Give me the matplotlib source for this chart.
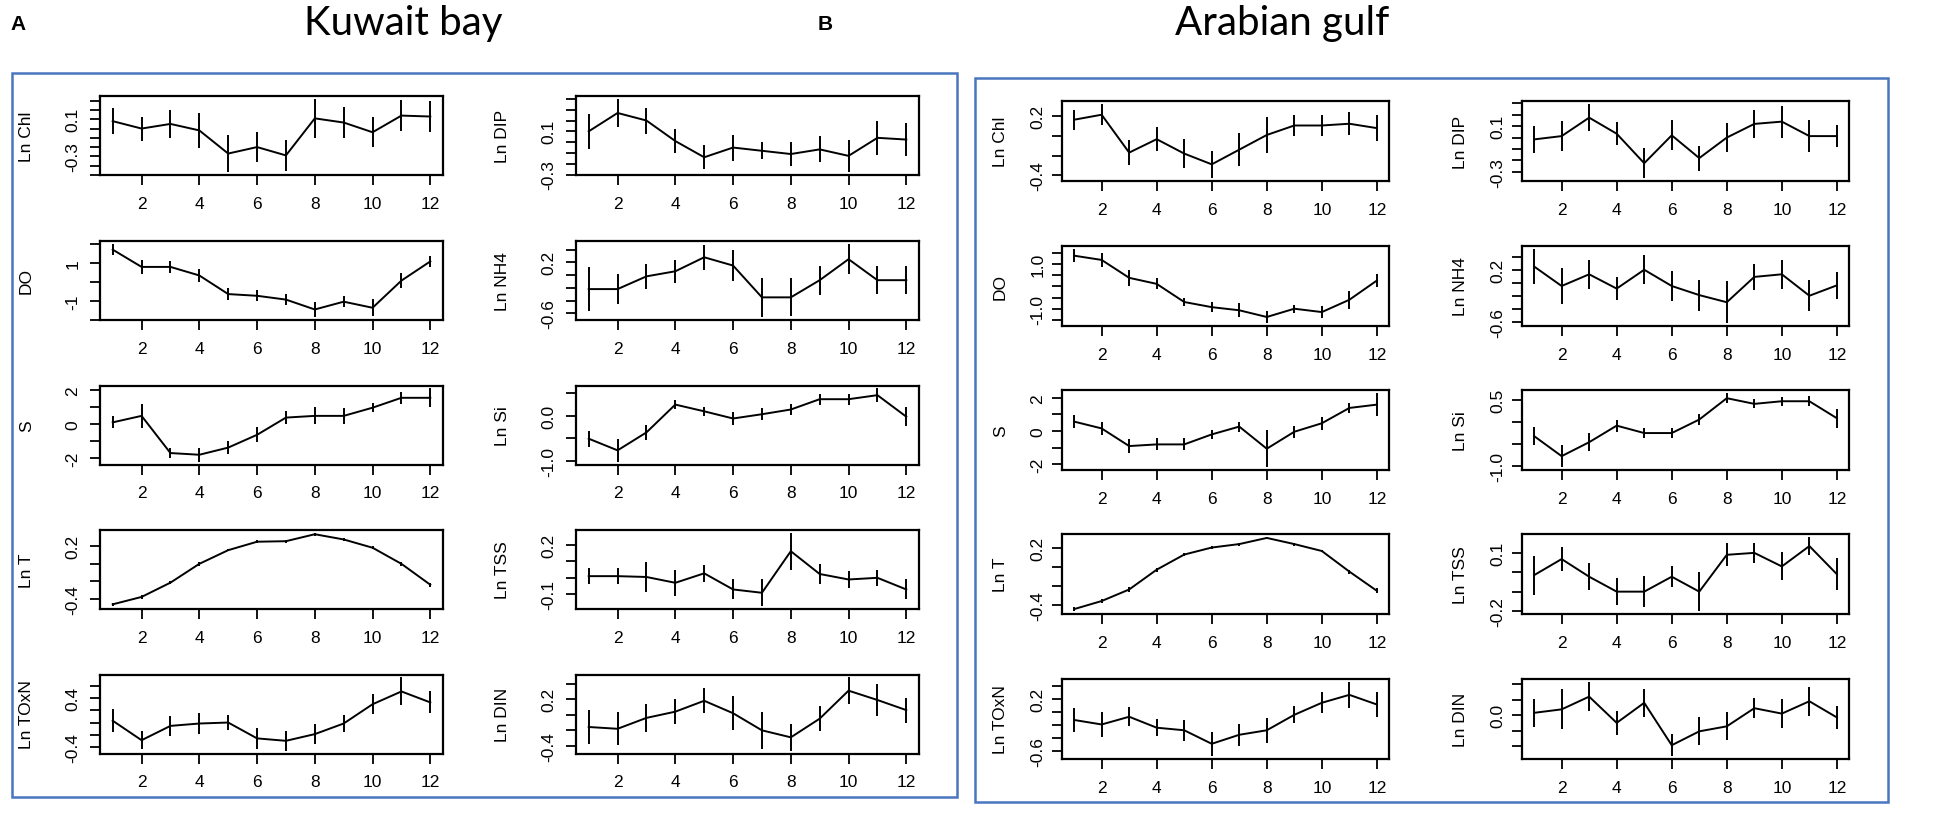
"""
Monthly climatology panels (mean +/- SE) for Kuwait bay and Arabian gulf.

Writes out.png (1953 x 820 px).
"""

import numpy as np
import matplotlib.pyplot as plt
from matplotlib.patches import Rectangle

# ---------------------------------------------------------------------------
# Data
# ---------------------------------------------------------------------------

months = list(range(1, 13))
month_ticks = [2, 4, 6, 8, 10, 12]

left_vars = ["Ln Chl", "DO", "S", "Ln T", "Ln TOxN"]
right_vars = ["Ln DIP", "Ln NH4", "Ln Si", "Ln TSS", "Ln DIN"]

# Kuwait bay
kb_chl_mean = [0.08, 0.00, 0.05, -0.02, -0.27, -0.20, -0.29, 0.11, 0.065, -0.04, 0.14, 0.13]
kb_chl_se = [0.14, 0.13, 0.15, 0.19, 0.20, 0.16, 0.17, 0.21, 0.17, 0.16, 0.17, 0.17]
kb_do_mean = [1.70, 0.79, 0.79, 0.34, -0.64, -0.73, -0.93, -1.45, -1.04, -1.36, 0.07, 1.08]
kb_do_se = [0.30, 0.35, 0.30, 0.33, 0.30, 0.30, 0.30, 0.40, 0.30, 0.45, 0.40, 0.30]
kb_s_mean = [0.10, 0.48, -1.70, -1.80, -1.38, -0.63, 0.38, 0.48, 0.48, 0.96, 1.54, 1.54]
kb_s_se = [0.35, 0.70, 0.30, 0.40, 0.40, 0.45, 0.40, 0.50, 0.45, 0.25, 0.35, 0.55]
kb_t_mean = [-0.465, -0.38, -0.216, 0.0, 0.157, 0.254, 0.26, 0.34, 0.28, 0.185, 0.0, -0.24]
kb_t_se = [0.02, 0.025, 0.02, 0.02, 0.015, 0.015, 0.015, 0.015, 0.015, 0.015, 0.02, 0.025]
kb_toxn_mean = [0.03, -0.29, -0.055, -0.016, 0.0, -0.26, -0.30, -0.19, -0.016, 0.30, 0.51, 0.33]
kb_toxn_se = [0.19, 0.15, 0.16, 0.18, 0.12, 0.17, 0.16, 0.16, 0.14, 0.16, 0.23, 0.18]
kb_dip_mean = [0.10, 0.27, 0.20, 0.01, -0.14, -0.05, -0.08, -0.11, -0.067, -0.127, 0.04, 0.024]
kb_dip_se = [0.16, 0.13, 0.12, 0.11, 0.11, 0.12, 0.08, 0.11, 0.12, 0.15, 0.16, 0.15]
kb_nh4_mean = [-0.22, -0.22, -0.02, 0.06, 0.28, 0.15, -0.35, -0.35, -0.08, 0.25, -0.08, -0.08]
kb_nh4_se = [0.35, 0.23, 0.20, 0.18, 0.20, 0.25, 0.31, 0.30, 0.23, 0.24, 0.22, 0.22]
kb_si_mean = [-0.51, -0.77, -0.37, 0.25, 0.10, -0.06, 0.035, 0.14, 0.37, 0.37, 0.46, -0.02]
kb_si_se = [0.18, 0.25, 0.16, 0.10, 0.10, 0.14, 0.13, 0.13, 0.12, 0.12, 0.15, 0.21]
kb_tss_mean = [0.01, 0.01, 0.005, -0.03, 0.027, -0.07, -0.09, 0.16, 0.023, -0.01, 0.0, -0.07]
kb_tss_se = [0.05, 0.05, 0.09, 0.08, 0.05, 0.06, 0.08, 0.11, 0.06, 0.05, 0.05, 0.06]
kb_din_mean = [-0.157, -0.18, -0.04, 0.04, 0.18, 0.02, -0.20, -0.29, -0.05, 0.31, 0.19, 0.06]
kb_din_se = [0.22, 0.21, 0.18, 0.16, 0.16, 0.22, 0.24, 0.17, 0.16, 0.17, 0.21, 0.16]

# Arabian gulf
ag_chl_mean = [0.166, 0.217, -0.17, -0.033, -0.18, -0.29, -0.14, 0.01, 0.107, 0.107, 0.125, 0.08]
ag_chl_se = [0.10, 0.11, 0.13, 0.12, 0.15, 0.14, 0.17, 0.18, 0.11, 0.11, 0.12, 0.13]
ag_do_mean = [1.37, 1.18, 0.38, 0.11, -0.70, -0.93, -1.07, -1.37, -1.00, -1.15, -0.60, 0.26]
ag_do_se = [0.30, 0.33, 0.36, 0.25, 0.20, 0.22, 0.32, 0.27, 0.17, 0.27, 0.40, 0.30]
ag_s_mean = [0.57, 0.16, -0.90, -0.80, -0.80, -0.20, 0.27, -1.06, -0.04, 0.47, 1.39, 1.59]
ag_s_se = [0.40, 0.40, 0.40, 0.36, 0.36, 0.25, 0.30, 1.10, 0.37, 0.40, 0.30, 0.70]
ag_t_mean = [-0.44, -0.356, -0.236, -0.03, 0.127, 0.20, 0.236, 0.30, 0.236, 0.164, -0.05, -0.25]
ag_t_se = [0.02, 0.02, 0.025, 0.02, 0.015, 0.015, 0.015, 0.01, 0.015, 0.015, 0.02, 0.025]
ag_toxn_mean = [-0.12, -0.19, -0.07, -0.24, -0.28, -0.49, -0.35, -0.28, -0.04, 0.147, 0.27, 0.12]
ag_toxn_se = [0.18, 0.19, 0.15, 0.13, 0.16, 0.19, 0.17, 0.19, 0.13, 0.16, 0.20, 0.19]
ag_dip_mean = [-0.016, 0.013, 0.175, 0.034, -0.225, 0.02, -0.18, 0.0, 0.12, 0.14, 0.013, 0.013]
ag_dip_se = [0.12, 0.13, 0.12, 0.10, 0.13, 0.13, 0.11, 0.13, 0.12, 0.14, 0.14, 0.10]
ag_nh4_mean = [0.25, -0.05, 0.13, -0.09, 0.20, -0.05, -0.19, -0.30, 0.09, 0.13, -0.20, -0.04]
ag_nh4_se = [0.27, 0.27, 0.22, 0.18, 0.22, 0.23, 0.24, 0.32, 0.20, 0.22, 0.24, 0.21]
ag_si_mean = [-0.32, -0.78, -0.46, -0.08, -0.25, -0.25, 0.06, 0.55, 0.42, 0.48, 0.48, 0.09]
ag_si_se = [0.20, 0.25, 0.20, 0.14, 0.12, 0.12, 0.12, 0.12, 0.10, 0.10, 0.12, 0.22]
ag_tss_mean = [-0.015, 0.068, -0.023, -0.10, -0.10, -0.023, -0.10, 0.09, 0.10, 0.03, 0.135, -0.01]
ag_tss_se = [0.10, 0.06, 0.07, 0.07, 0.08, 0.053, 0.10, 0.06, 0.053, 0.072, 0.047, 0.082]
ag_din_mean = [0.03, 0.075, 0.24, -0.10, 0.16, -0.39, -0.21, -0.145, 0.09, 0.02, 0.18, -0.03]
ag_din_se = [0.18, 0.26, 0.19, 0.16, 0.18, 0.14, 0.18, 0.18, 0.13, 0.19, 0.19, 0.15]

# y tick spacing and which ticks carry a label (R drops overlapping labels)
kb_yticks = {
    "Ln Chl": (0.1, {0.1: "0.1", -0.3: "-0.3"}),
    "DO": (1.0, {1.0: "1", -1.0: "-1"}),
    "S": (1.0, {2.0: "2", 0.0: "0", -2.0: "-2"}),
    "Ln T": (0.2, {0.2: "0.2", -0.4: "-0.4"}),
    "Ln TOxN": (0.2, {0.4: "0.4", -0.4: "-0.4"}),
    "Ln DIP": (0.1, {0.1: "0.1", -0.3: "-0.3"}),
    "Ln NH4": (0.2, {0.2: "0.2", -0.6: "-0.6"}),
    "Ln Si": (0.5, {0.0: "0.0", -1.0: "-1.0"}),
    "Ln TSS": (0.1, {0.2: "0.2", -0.1: "-0.1"}),
    "Ln DIN": (0.2, {0.2: "0.2", -0.4: "-0.4"}),
}
ag_yticks = {
    "Ln Chl": (0.2, {0.2: "0.2", -0.4: "-0.4"}),
    "DO": (0.5, {1.0: "1.0", -1.0: "-1.0"}),
    "S": (1.0, {2.0: "2", 0.0: "0", -2.0: "-2"}),
    "Ln T": (0.2, {0.2: "0.2", -0.4: "-0.4"}),
    "Ln TOxN": (0.2, {0.2: "0.2", -0.6: "-0.6"}),
    "Ln DIP": (0.1, {0.1: "0.1", -0.3: "-0.3"}),
    "Ln NH4": (0.2, {0.2: "0.2", -0.6: "-0.6"}),
    "Ln Si": (0.5, {0.5: "0.5", -1.0: "-1.0"}),
    "Ln TSS": (0.1, {0.1: "0.1", -0.2: "-0.2"}),
    "Ln DIN": (0.2, {0.0: "0.0", -0.6: "-0.6"}),
}

kb_series = {
    "Ln Chl": (kb_chl_mean, kb_chl_se), "DO": (kb_do_mean, kb_do_se),
    "S": (kb_s_mean, kb_s_se), "Ln T": (kb_t_mean, kb_t_se),
    "Ln TOxN": (kb_toxn_mean, kb_toxn_se), "Ln DIP": (kb_dip_mean, kb_dip_se),
    "Ln NH4": (kb_nh4_mean, kb_nh4_se), "Ln Si": (kb_si_mean, kb_si_se),
    "Ln TSS": (kb_tss_mean, kb_tss_se), "Ln DIN": (kb_din_mean, kb_din_se),
}
ag_series = {
    "Ln Chl": (ag_chl_mean, ag_chl_se), "DO": (ag_do_mean, ag_do_se),
    "S": (ag_s_mean, ag_s_se), "Ln T": (ag_t_mean, ag_t_se),
    "Ln TOxN": (ag_toxn_mean, ag_toxn_se), "Ln DIP": (ag_dip_mean, ag_dip_se),
    "Ln NH4": (ag_nh4_mean, ag_nh4_se), "Ln Si": (ag_si_mean, ag_si_se),
    "Ln TSS": (ag_tss_mean, ag_tss_se), "Ln DIN": (ag_din_mean, ag_din_se),
}

# ---------------------------------------------------------------------------
# Layout (pixels)
# ---------------------------------------------------------------------------

W, H, DPI = 1953, 820, 100
BOX_BLUE = "#4a76c0"
FONT = ["Liberation Sans", "DejaVu Sans"]
TITLE_FONT = ["Lato", "DejaVu Sans"]
TICK_FS = 12.5

plt.rcParams["font.family"] = FONT


def px_axes(fig, x0, y0, w, h):
    return fig.add_axes([x0 / W, 1 - (y0 + h) / H, w / W, h / H])


def draw_panel(ax, mean, se, step, labels, ypad):
    ax.errorbar(months, mean, yerr=se, color="black", lw=1.4,
                elinewidth=1.4, capsize=0)
    ax.set_xlim(0.56, 12.44)
    ax.margins(y=0.04)
    ax.autoscale_view()
    lo, hi = ax.get_ylim()
    ticks = np.arange(np.ceil(lo / step - 1e-9), np.floor(hi / step + 1e-9) + 1) * step
    ticklabels = []
    for t in ticks:
        txt = ""
        for k, v in labels.items():
            if abs(k - t) < 1e-6:
                txt = v
        ticklabels.append(txt)
    ax.set_yticks(ticks)
    ax.set_yticklabels(ticklabels, rotation=90, va="center", fontsize=TICK_FS)
    ax.set_ylim(lo, hi)
    ax.set_xticks(month_ticks)
    ax.set_xticklabels([str(m) for m in month_ticks], fontsize=TICK_FS)
    ax.tick_params(direction="out", length=7, width=1.3, color="black")
    ax.tick_params(axis="x", pad=8)
    ax.tick_params(axis="y", pad=ypad)
    for sp in ax.spines.values():
        sp.set_linewidth(1.6)


def draw_site(fig, series, yticks, col_left, col_w, row_top, row_h, label_off, ypad):
    for ci, names in enumerate([left_vars, right_vars]):
        for ri, name in enumerate(names):
            ax = px_axes(fig, col_left[ci], row_top[ri], col_w, row_h)
            mean, se = series[name]
            step, labels = yticks[name]
            draw_panel(ax, mean, se, step, labels, ypad)
            ax.set_ylabel(name, fontsize=TICK_FS)
            ax.yaxis.set_label_coords(-label_off / col_w, 0.5)


def main():
    fig = plt.figure(figsize=(W / DPI, H / DPI), dpi=DPI, facecolor="white")

    # outer blue frames
    for x0, y0, x1, y1 in [(12, 74, 957, 798), (975, 79, 1888, 803)]:
        fig.patches.append(Rectangle((x0 / W, 1 - y1 / H), (x1 - x0) / W, (y1 - y0) / H,
                                     transform=fig.transFigure, fill=False,
                                     edgecolor=BOX_BLUE, linewidth=1.8))

    draw_site(fig, kb_series, kb_yticks, [100, 576], 343,
              [97, 242, 386.5, 531, 675.5], 79, 66, 7)
    draw_site(fig, ag_series, ag_yticks, [1062, 1522], 327,
              [102, 247, 391, 535, 680], 80, 54, 5)

    fig.text(10 / W, 1 - 24 / H, "A", fontsize=15, fontweight="bold",
             ha="left", va="center")
    fig.text(403 / W, 1 - 24 / H, "Kuwait bay", fontsize=29, family=TITLE_FONT,
             ha="center", va="center")
    fig.text(818 / W, 1 - 24 / H, "B", fontsize=15, fontweight="bold",
             ha="left", va="center")
    fig.text(1282 / W, 1 - 24 / H, "Arabian gulf", fontsize=29, family=TITLE_FONT,
             ha="center", va="center")

    fig.savefig("out.png", dpi=DPI, facecolor="white")
    plt.close(fig)


if __name__ == "__main__":
    main()
